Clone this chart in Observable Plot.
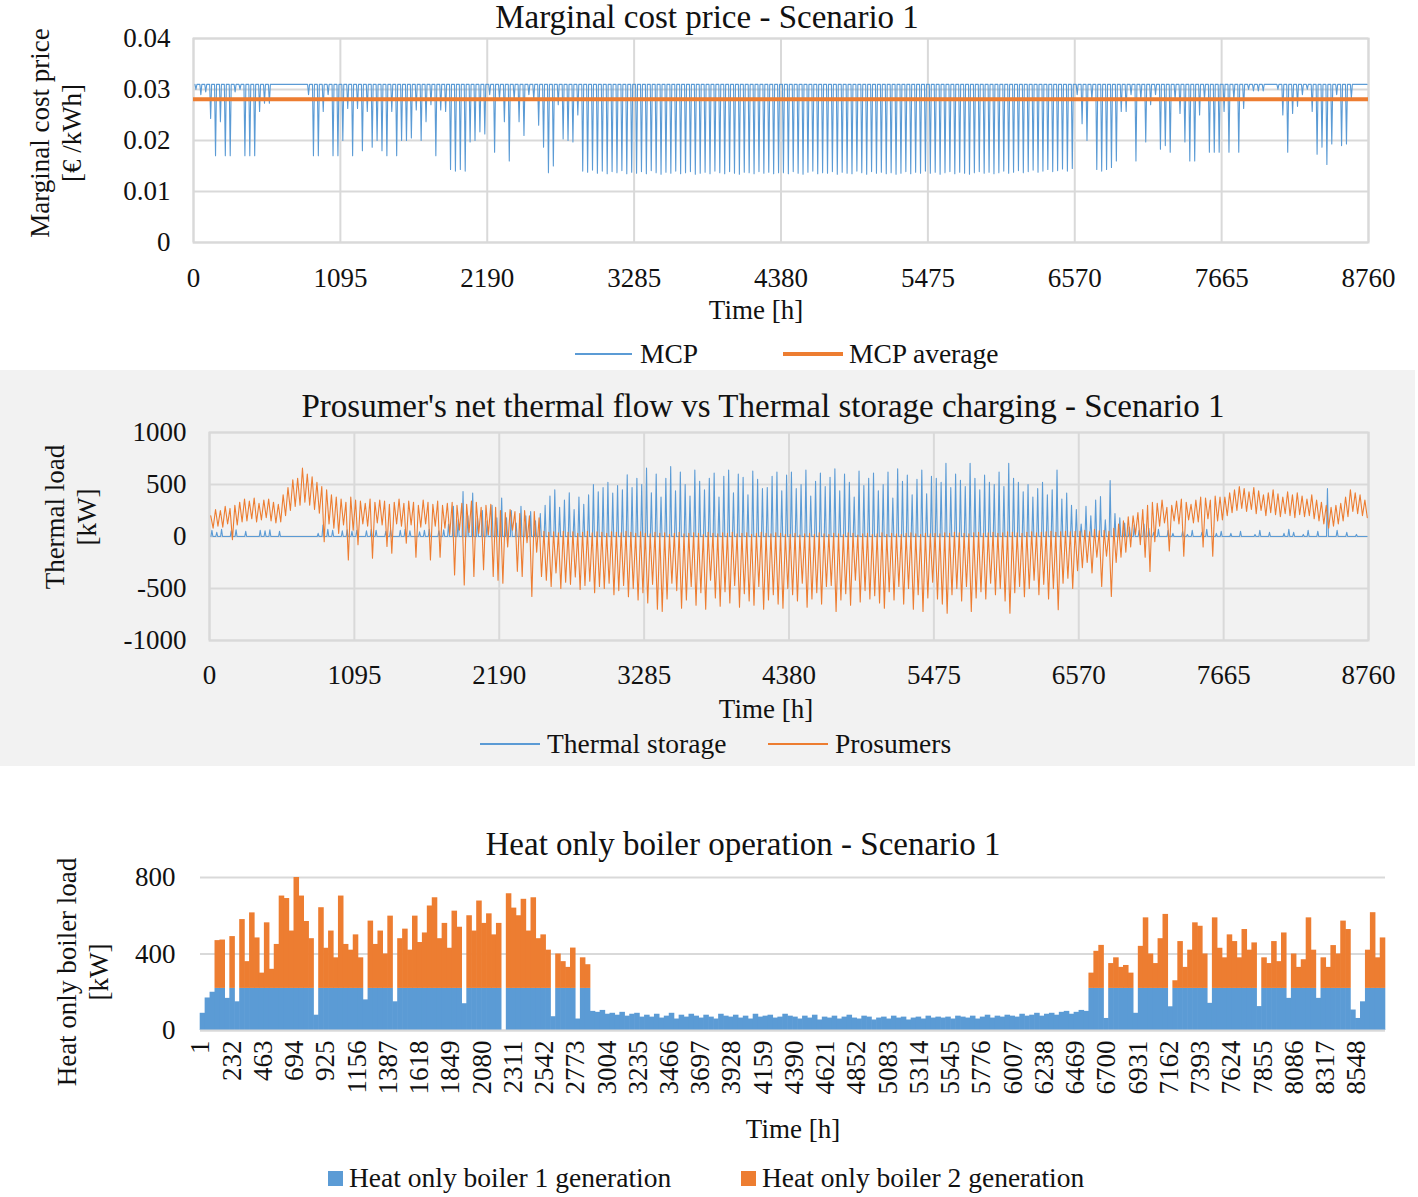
<!DOCTYPE html>
<html><head><meta charset="utf-8">
<script src="https://cdn.jsdelivr.net/npm/d3@7"></script>
<script src="https://cdn.jsdelivr.net/npm/@observablehq/plot@0.6"></script>
<style>
body{margin:0;background:#fff;}
#page{position:relative;width:1418px;height:1197px;font-family:"Liberation Serif","Times New Roman",serif;color:#111;overflow:hidden;background:#fff;}
.abs{position:absolute;white-space:nowrap;line-height:1.15;}
.ytitle{position:absolute;white-space:nowrap;text-align:center;line-height:32px;font-size:27px;}
</style></head>
<body><div id="page"></div>
<script>
// ---------------- DATA (one value per 36.5 h bin, 240 bins) ----------------
const hourTicks = [0, 1095, 2190, 3285, 4380, 5475, 6570, 7665, 8760];
const mcpTicks = [0, 0.01, 0.02, 0.03, 0.04];
const loadTicks = [-1000, -500, 0, 500, 1000];
const boilerYTicks = [0, 400, 800];
const boilerXTicks = [1,232,463,694,925,1156,1387,1618,1849,2080,2311,2542,2773,3004,3235,3466,3697,3928,4159,4390,4621,4852,5083,5314,5545,5776,6007,6238,6469,6700,6931,7162,7393,7624,7855,8086,8317,8548];

// Panel 1: MCP [€/kWh] - usual level and lowest value in each bin
const mcpMax = 0.031;
const mcpAverage = 0.0281;
const mcpMin = [
0.030,0.029,0.0295,0.0243,0.017,0.0237,0.017,0.017,0.0295,0.030,0.017,0.017,0.017,0.0257,0.0273,0.0273,0.031,0.031,0.031,0.031,0.031,0.031,0.031,0.029,0.017,0.017,0.0257,0.029,0.017,0.017,
0.020,0.0263,0.017,0.0263,0.018,0.0257,0.0187,0.020,0.018,0.017,0.0257,0.017,0.020,0.020,0.0205,0.026,0.020,0.0237,0.027,0.017,0.026,0.0257,0.0143,0.014,0.0143,0.014,0.0197,0.020,0.0217,0.0213,
0.029,0.0177,0.028,0.0237,0.016,0.028,0.0237,0.021,0.029,0.028,0.023,0.0187,0.0137,0.015,0.027,0.0203,0.020,0.0197,0.025,0.014,0.0138,0.0142,0.0136,0.014,0.0135,0.0139,0.0137,0.0141,0.0135,0.0138,
0.0136,0.0139,0.0135,0.0141,0.0137,0.0134,0.0138,0.0136,0.0140,0.0135,0.0137,0.0139,0.0134,0.0136,0.0138,0.0135,0.0140,0.0137,0.0135,0.0139,0.0136,0.0134,0.0138,0.0137,0.0135,0.0139,0.0136,0.0138,0.0135,0.0137,
0.0137,0.0135,0.0139,0.0136,0.0134,0.0138,0.0140,0.0135,0.0137,0.0136,0.0139,0.0134,0.0138,0.0136,0.0135,0.0140,0.0137,0.0134,0.0139,0.0136,0.0138,0.0135,0.0137,0.0134,0.0136,0.0139,0.0135,0.0138,0.0136,0.0140,
0.0136,0.0138,0.0134,0.0137,0.0139,0.0135,0.0138,0.0136,0.0134,0.0137,0.0139,0.0136,0.0138,0.0135,0.0137,0.0140,0.0136,0.0138,0.0141,0.0137,0.0139,0.0142,0.0138,0.0140,0.0143,0.0139,0.0141,0.0144,0.0140,0.0145,
0.029,0.0233,0.020,0.028,0.0143,0.0140,0.0143,0.0147,0.016,0.0257,0.0257,0.029,0.016,0.028,0.0197,0.027,0.029,0.0183,0.019,0.0177,0.028,0.0253,0.0197,0.016,0.016,0.025,0.028,0.0177,0.0177,0.0177,
0.0257,0.0177,0.028,0.0177,0.0263,0.030,0.0297,0.0297,0.0297,0.031,0.031,0.030,0.025,0.0177,0.0253,0.0267,0.029,0.030,0.0257,0.0173,0.0187,0.0153,0.0193,0.029,0.019,0.0193,0.0283,0.031,0.031,0.031];

// Panel 2: thermal storage charging [kW] - peak in each bin (low is 0)
const storageLow = 0;
const storageMax = [
60,40,70,0,55,65,0,50,0,0,60,55,65,0,50,0,0,0,0,0,0,0,30,110,70,60,0,55,65,50,
60,0,55,70,60,0,50,65,0,60,70,55,0,45,60,70,0,55,65,120,290,160,432,200,417,180,250,150,300,180,
370,180,250,130,290,200,240,150,220,300,390,450,280,350,420,260,380,310,400,500,430,470,520,417,490,450,593,470,560,500,
657,420,600,380,560,673,440,620,500,390,640,530,450,560,610,380,580,640,420,600,570,400,630,550,460,470,580,620,440,590,
620,460,500,640,390,530,610,480,570,650,440,600,520,380,630,490,560,610,440,500,620,370,650,530,590,400,550,640,410,580,
560,520,705,470,600,540,480,705,560,450,590,520,500,620,480,705,560,520,430,500,380,460,520,400,450,640,360,417,300,260,
120,290,200,350,385,160,538,220,180,130,90,110,60,120,80,40,70,0,60,30,0,50,20,60,0,40,70,0,30,50,
0,30,0,50,0,0,20,60,0,40,0,0,30,70,40,0,20,60,0,50,0,460,0,60,0,40,0,20,0,0];

// Panel 2: prosumers' net thermal flow [kW] - high and low in each bin
const prosumerHigh = [
200,260,250,290,270,300,330,360,340,370,320,350,360,330,310,400,470,545,560,657,600,575,520,480,450,400,380,360,330,380,
350,340,320,360,330,350,340,310,330,360,320,340,330,300,350,330,310,340,300,320,330,300,320,310,340,330,280,300,310,280,
250,230,260,240,220,250,200,240,180,50,40,45,35,50,40,45,30,40,50,35,45,40,30,45,40,35,50,40,30,45,
30,25,40,30,35,20,30,40,25,30,35,30,20,40,30,25,35,30,40,25,30,35,20,30,40,30,25,35,30,20,
20,30,15,25,30,20,35,25,20,30,25,20,35,30,15,25,30,20,25,35,20,30,25,20,30,35,25,20,30,25,
30,25,35,30,40,35,30,25,35,40,30,35,40,30,35,45,40,35,30,40,45,35,40,45,50,40,45,50,45,50,
50,60,45,70,55,60,50,80,120,150,190,200,230,260,300,330,320,350,280,300,340,360,330,310,350,380,370,350,390,380,
380,420,450,480,460,430,470,440,400,420,450,410,380,430,400,420,390,360,400,350,330,300,280,300,320,380,450,420,400,350];
const prosumerLow = [
80,100,90,120,-30,110,140,150,170,140,160,180,150,130,140,200,250,290,300,330,300,260,225,-50,120,80,30,110,-225,60,
-80,120,100,-208,130,110,-95,-160,120,100,-65,110,-200,90,120,-225,100,-200,80,20,-370,60,-465,40,-385,30,-320,20,-385,-420,
-450,-100,60,-335,-385,-60,-577,-150,-385,-420,-480,-350,-500,-440,-460,-390,-510,-470,-430,-540,-480,-500,-450,-560,-520,-470,-580,-500,-610,-540,
-640,-460,-700,-720,-600,-450,-520,-690,-610,-480,-660,-540,-700,-420,-590,-670,-530,-640,-470,-680,-550,-620,-660,-480,-700,-610,-560,-650,-690,-500,
-560,-620,-450,-680,-600,-540,-650,-480,-470,-720,-610,-550,-660,-420,-630,-520,-600,-570,-640,-690,-530,-610,-480,-650,-500,-700,-560,-720,-590,-440,
-600,-650,-737,-560,-500,-620,-480,-720,-590,-530,-600,-450,-560,-500,-620,-737,-540,-480,-580,-500,-420,-560,-460,-600,-500,-705,-450,-400,-500,-330,
-300,-250,-350,-200,-480,-190,-577,-250,-200,-150,-100,20,-80,-200,-336,-50,100,130,-140,150,120,-190,160,130,140,-100,170,-190,150,160,
200,230,250,270,240,260,220,250,200,230,210,190,220,200,180,210,190,200,170,150,120,80,100,120,150,190,240,220,200,180];

// Panel 3: heat only boiler generation [kW] per bin
const boiler1 = [
90,170,200,220,220,168,220,150,220,220,220,220,220,220,220,220,220,220,220,220,220,220,220,80,220,220,220,220,220,220,
220,220,220,160,220,220,220,220,220,150,220,220,220,220,220,220,220,220,220,220,220,220,220,140,220,220,220,220,220,220,
220,0,220,220,220,220,220,220,220,220,220,72,220,220,220,220,60,220,220,100,95,105,85,90,80,95,75,85,90,70,
80,70,85,65,75,90,60,80,70,85,75,65,80,70,60,85,75,70,80,65,75,60,85,70,75,80,65,70,85,75,
70,60,75,65,80,55,70,65,75,60,70,80,65,60,75,70,55,65,70,60,75,65,70,55,65,70,60,75,65,70,
65,70,60,75,70,65,75,60,70,80,65,75,70,80,75,70,85,75,80,90,75,85,90,80,95,100,85,95,105,100,
220,220,220,63,220,220,220,220,220,90,220,220,220,220,220,220,124,220,220,220,220,220,220,220,142,220,220,220,220,220,
220,220,220,220,125,220,220,220,220,220,168,220,220,220,220,220,168,220,220,220,220,220,220,107,63,150,220,220,220,220];
const boiler2 = [
0,0,0,250,253,0,271,0,360,140,395,264,80,343,100,230,483,470,300,580,483,350,260,0,422,210,300,160,483,230,
200,280,160,0,352,230,300,180,378,0,260,310,200,378,240,290,431,474,260,340,210,404,320,0,380,300,457,340,390,280,
340,0,495,420,380,466,300,474,260,280,200,0,180,140,110,211,0,160,124,0,0,0,0,0,0,0,0,0,0,0,
0,0,0,0,0,0,0,0,0,0,0,0,0,0,0,0,0,0,0,0,0,0,0,0,0,0,0,0,0,0,
0,0,0,0,0,0,0,0,0,0,0,0,0,0,0,0,0,0,0,0,0,0,0,0,0,0,0,0,0,0,
0,0,0,0,0,0,0,0,0,0,0,0,0,0,0,0,0,0,0,0,0,0,0,0,0,0,0,0,0,0,
80,194,225,0,130,160,110,120,80,0,220,369,180,130,260,387,0,40,245,110,200,343,325,180,0,369,210,160,280,245,
160,308,200,238,0,160,130,245,140,290,0,180,110,150,369,200,0,160,110,224,180,352,308,0,0,0,200,396,160,264];

// ---------------- DRAWING ----------------
const BIN = 36.5;
const BLUE = "#5B9BD5", ORANGE = "#ED7D31", GRID = "#D9D9D9", INK = "#111";
const FONT = '"Liberation Serif", "Times New Roman", serif';
const page = document.getElementById("page");
const at = (a, b) => typeof a === "number" ? a : a[b];

// zig-zag: the high and the low value of each bin, one after the other
function zig(hi, lo) {
  const pts = [];
  for (let b = 0; b < 240; b++) {
    pts.push({h: b * BIN + BIN * 0.25, v: at(hi, b)});
    pts.push({h: b * BIN + BIN * 0.75, v: at(lo, b)});
  }
  return pts;
}
// narrow spikes: level, extreme value, level
function spikes(level, extreme) {
  const pts = [];
  for (let b = 0; b < 240; b++) {
    pts.push({h: b * BIN + BIN * 0.3, v: at(level, b)});
    pts.push({h: b * BIN + BIN * 0.5, v: at(extreme, b)});
    pts.push({h: b * BIN + BIN * 0.7, v: at(level, b)});
  }
  return pts;
}
function place(el, top) {
  el.style.position = "absolute"; el.style.left = "0px"; el.style.top = top + "px";
  page.appendChild(el);
}
function text(str, cx, cy, size) {
  const d = document.createElement("div");
  d.className = "abs";
  d.style.left = cx + "px"; d.style.top = cy + "px"; d.style.fontSize = size + "px";
  d.style.transform = "translate(-50%,-50%)";
  d.textContent = str; page.appendChild(d);
}
function leftText(str, x, cy, size) {
  const d = document.createElement("div");
  d.className = "abs";
  d.style.left = x + "px"; d.style.top = cy + "px"; d.style.fontSize = size + "px";
  d.style.transform = "translateY(-50%)";
  d.textContent = str; page.appendChild(d);
}
function ytitle(lines, cx, cy) {
  const d = document.createElement("div");
  d.className = "ytitle";
  d.style.left = cx + "px"; d.style.top = cy + "px";
  d.style.transform = "translate(-50%,-50%) rotate(-90deg)";
  d.innerHTML = lines.map(s => "<div>" + s + "</div>").join("");
  page.appendChild(d);
}
function swatchLine(x1, x2, y, color, w) {
  const d = document.createElement("div");
  d.style.cssText = `position:absolute;left:${x1}px;top:${y - w / 2}px;width:${x2 - x1}px;height:${w}px;background:${color};`;
  page.appendChild(d);
}
function swatchBox(x, y, s, color) {
  const d = document.createElement("div");
  d.style.cssText = `position:absolute;left:${x}px;top:${y - s / 2}px;width:${s}px;height:${s}px;background:${color};`;
  page.appendChild(d);
}
const baseStyle = {fontFamily: FONT, fontSize: "27px", background: "transparent", color: INK, overflow: "visible"};

// panel 2 grey background
const bg = document.createElement("div");
bg.style.cssText = "position:absolute;left:0;top:370px;width:1415px;height:396px;background:#f2f2f2;";
page.appendChild(bg);

// ---- Panel 1
const p1 = Plot.plot({
  width: 1418, height: 300,
  marginLeft: 193, marginRight: 50, marginTop: 38, marginBottom: 58,
  style: baseStyle,
  x: {domain: [0, 8760], ticks: hourTicks, tickSize: 0, tickPadding: 25, label: null, tickFormat: d => String(d)},
  y: {domain: [0, 0.04], ticks: mcpTicks, tickSize: 0, tickPadding: 23, label: null, tickFormat: d => d === 0 ? "0" : d.toFixed(2)},
  marks: [
    Plot.gridX(hourTicks, {stroke: GRID, strokeOpacity: 1, strokeWidth: 2}),
    Plot.gridY(mcpTicks, {stroke: GRID, strokeOpacity: 1, strokeWidth: 2}),
    Plot.frame({stroke: GRID, strokeWidth: 2}),
    Plot.line(spikes(mcpMax, mcpMin), {x: "h", y: "v", stroke: BLUE, strokeWidth: 1.1}),
    Plot.ruleY([mcpAverage], {x1: 0, x2: 8760, stroke: ORANGE, strokeWidth: 4})
  ]
});
place(p1, 0);

// ---- Panel 2
const p2 = Plot.plot({
  width: 1418, height: 320,
  marginLeft: 209, marginRight: 50, marginTop: 62, marginBottom: 50,
  style: baseStyle,
  x: {domain: [0, 8760], ticks: hourTicks, tickSize: 0, tickPadding: 24, label: null, tickFormat: d => String(d)},
  y: {domain: [-1000, 1000], ticks: loadTicks, tickSize: 0, tickPadding: 23, label: null, tickFormat: d => String(d)},
  marks: [
    Plot.gridX(hourTicks, {stroke: GRID, strokeOpacity: 1, strokeWidth: 2}),
    Plot.gridY(loadTicks, {stroke: GRID, strokeOpacity: 1, strokeWidth: 2}),
    Plot.frame({stroke: GRID, strokeWidth: 2}),
    Plot.line(spikes(storageLow, storageMax), {x: "h", y: "v", stroke: BLUE, strokeWidth: 1.1}),
    Plot.line(zig(prosumerHigh, prosumerLow), {x: "h", y: "v", stroke: ORANGE, strokeWidth: 1.1})
  ]
});
place(p2, 370);

// ---- Panel 3
const bars = boiler1.map((v, b) => ({x1: b * BIN, x2: (b + 1) * BIN, b1: v, b2: boiler2[b]}));
const p3 = Plot.plot({
  width: 1418, height: 310,
  marginLeft: 200, marginRight: 33, marginTop: 77, marginBottom: 80,
  style: baseStyle,
  x: {domain: [0, 8760], ticks: boilerXTicks, tickSize: 0, tickPadding: 10, tickRotate: -90, label: null, tickFormat: d => String(d)},
  y: {domain: [0, 800], ticks: boilerYTicks, tickSize: 0, tickPadding: 25, label: null, tickFormat: d => String(d)},
  marks: [
    Plot.gridY(boilerYTicks, {stroke: GRID, strokeOpacity: 1, strokeWidth: 2}),
    Plot.rect(bars, {x1: "x1", x2: "x2", y1: () => 0, y2: "b1", fill: BLUE, insetLeft: -0.3, insetRight: -0.3}),
    Plot.rect(bars.filter(d => d.b2 > 0), {x1: "x1", x2: "x2", y1: "b1", y2: d => d.b1 + d.b2, fill: ORANGE, insetLeft: -0.3, insetRight: -0.3}),
    Plot.ruleY([0], {stroke: GRID, strokeWidth: 2})
  ]
});
place(p3, 800);

// ---- texts
text("Marginal cost price - Scenario 1", 707, 18, 33);
text("Prosumer's net thermal flow vs Thermal storage charging - Scenario 1", 763, 407, 33);
text("Heat only boiler operation - Scenario 1", 743, 845, 33);
text("Time [h]", 756, 311, 27);
text("Time [h]", 766, 710, 27);
text("Time [h]", 793, 1130, 27);
ytitle(["Marginal cost price", "[€ /kWh]"], 56, 133);
ytitle(["Thermal load", "[kW]"], 71, 517);
ytitle(["Heat only boiler load", "[kW]"], 83, 972);

// ---- legends
swatchLine(575, 632, 354, BLUE, 1.5); leftText("MCP", 640, 354, 27.5);
swatchLine(783, 843, 354, ORANGE, 4); leftText("MCP average", 849, 354, 27.5);
swatchLine(480, 540, 744, BLUE, 1.5); leftText("Thermal storage", 547, 744, 27.5);
swatchLine(768, 828, 744, ORANGE, 1.5); leftText("Prosumers", 835, 744, 27.5);
swatchBox(328, 1178, 15, BLUE); leftText("Heat only boiler 1 generation", 349, 1178, 27.5);
swatchBox(741, 1178, 15, ORANGE); leftText("Heat only boiler 2 generation", 762, 1178, 27.5);
</script>
</body></html>
